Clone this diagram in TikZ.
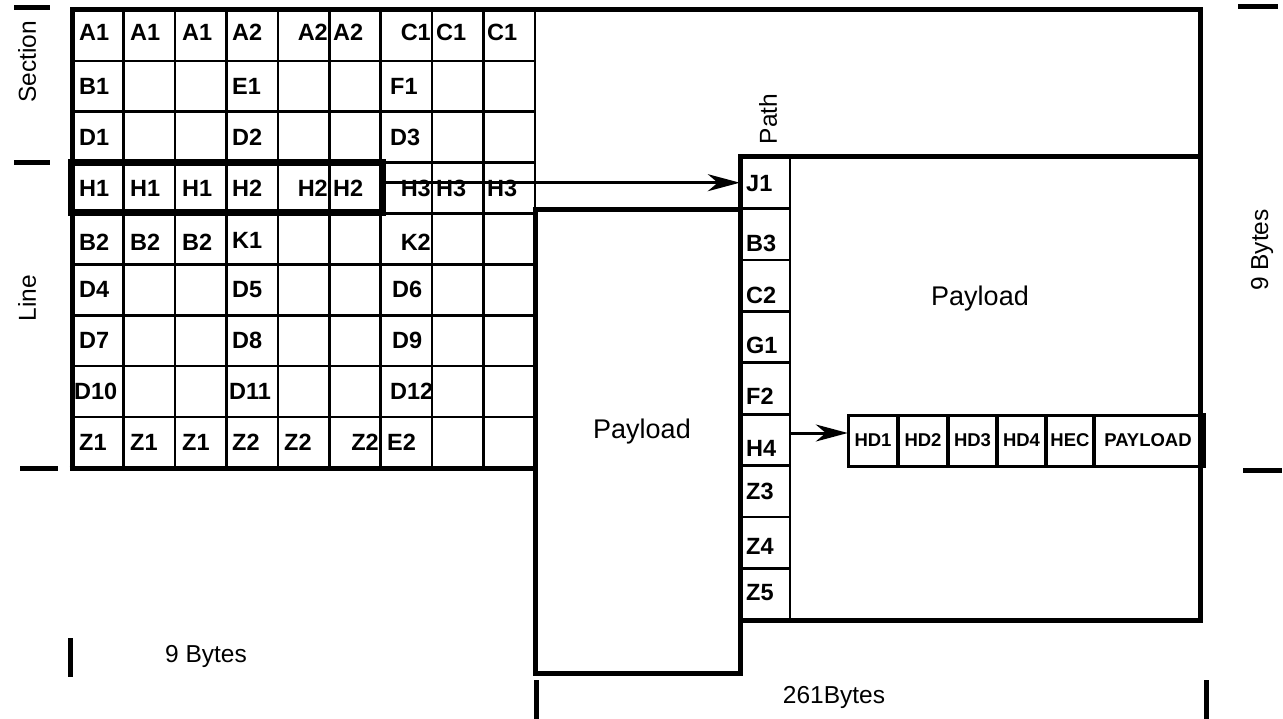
\documentclass[tikz,border=0pt]{standalone}
\usepackage{fontspec}
\setmainfont{Liberation Sans}
\usetikzlibrary{arrows.meta}
\tikzset{
  gline/.style={line width=2.6pt},
  bline/.style={line width=5pt},
  tickbar/.style={line width=5pt},
  lbl/.style={font=\fontsize{23.5}{27}\selectfont\bfseries, inner sep=0pt, anchor=west},
  lblr/.style={lbl, anchor=east},
  hdlbl/.style={font=\fontsize{18.5}{21}\selectfont\bfseries, inner sep=0pt, minimum height=51pt},
  txt/.style={font=\fontsize{24.5}{28}\selectfont, inner sep=0pt},
  bigtxt/.style={font=\fontsize{27}{31}\selectfont, inner sep=0pt},
  cellbox/.style={inner sep=0pt, minimum height=51.4pt, minimum width=50pt},
  arr/.style={line width=3pt, -{Stealth[length=32pt,width=17pt,inset=10pt]}},
}
\begin{document}
\begin{tikzpicture}[x=1pt,y=-1pt]
\useasboundingbox (0,0) rectangle (1283,719);

% ---- left grid (section + line overhead)
\foreach \x in {123.4,174.9,226.3,277.8,329.2,380.7,432.1,483.6}
  \draw[gline] (\x,10) -- (\x,468);
\foreach \y in {60.9,111.8,162.7,213.6,264.4,315.3,366.2,417.1}
  \draw[gline] (72,\y) -- (535,\y);
\draw[gline] (535,10) -- (535,212);
\draw[bline] (72,468) -- (72,10) -- (1200,10) -- (1200,157);
\draw[bline] (69.5,468) -- (535,468);

% ---- middle payload box
\draw[bline] (535,210) rectangle (740,673);
% ---- path column + payload box
\draw[bline] (740,157) rectangle (1200,620);
\draw[gline] (790,157) -- (790,620);
\foreach \y in {208.4,259.9,311.3,362.8,414.2,465.7,517.1,568.6}
  \draw[gline] (740,\y) -- (790,\y);

% ---- H group box
\node[draw, line width=6.5pt, inner sep=0pt, minimum width=312pt, minimum height=50pt] (hbox) at (227,187.5) {};

% ---- grid labels
% row A
\node[lbl] (a11) at (79,32) {A1};
\node[lbl] (a12) at (130,32) {A1};
\node[lbl] (a13) at (182,32) {A1};
\node[lbl] (a21) at (232,32) {A2};
\node[lblr] (a22) at (328,32) {A2};
\node[lbl] (a23) at (333,32) {A2};
\node[lblr] (c11) at (431,32) {C1};
\node[lbl] (c12) at (436,32) {C1};
\node[lbl] (c13) at (487,32) {C1};
% row B1
\node[lbl] (b1) at (79,86.3) {B1};
\node[lbl] (e1) at (232,86.3) {E1};
\node[lbl] (f1) at (390,86.3) {F1};
% row D1
\node[lbl] (d1) at (79,137.2) {D1};
\node[lbl] (d2) at (232,137.2) {D2};
\node[lbl] (d3) at (390,137.2) {D3};
% row H
\node[lbl] (h11) at (79,188.5) {H1};
\node[lbl] (h12) at (130,188.5) {H1};
\node[lbl] (h13) at (182,188.5) {H1};
\node[lbl] (h21) at (232,188.5) {H2};
\node[lblr] (h22) at (328,188.5) {H2};
\node[lbl] (h23) at (333,188.5) {H2};
\node[lblr] (h31) at (431,188.5) {H3};
\node[lbl] (h32) at (436,188.5) {H3};
\node[lbl] (h33) at (487,188.5) {H3};
% row B2
\node[lbl] (b21) at (79,242) {B2};
\node[lbl] (b22) at (130,242) {B2};
\node[lbl] (b23) at (182,242) {B2};
\node[lbl] (k1) at (232,240) {K1};
\node[lblr] (k2) at (431,242) {K2};
% rows D
\node[lbl] (d4) at (79,289.9) {D4};
\node[lbl] (d5) at (232,289.9) {D5};
\node[lbl] (d6) at (392,289.9) {D6};
\node[lbl] (d7) at (79,340.8) {D7};
\node[lbl] (d8) at (232,340.8) {D8};
\node[lbl] (d9) at (392,340.8) {D9};
\node[lbl] (d10) at (74,391.6) {D10};
\node[lbl] (d11) at (229,391.6) {D11};
\node[lbl] (d12) at (390,391.6) {D12};
% row Z
\node[lbl] (z11) at (79,442.5) {Z1};
\node[lbl] (z12) at (130,442.5) {Z1};
\node[lbl] (z13) at (182,442.5) {Z1};
\node[lbl] (z21) at (232,442.5) {Z2};
\node[lbl] (z22) at (284,442.5) {Z2};
\node[lblr] (z23) at (379,442.5) {Z2};
\node[lbl] (e2) at (387,442.5) {E2};

% ---- path column cells and labels
\node[cellbox] (j1) at (765,182.7) {};
\node[cellbox] (h4) at (765,440) {};
\node[lbl] (tj1) at (746,184) {J1};
\node[lbl] (tb3) at (746,243) {B3};
\node[lbl] (tc2) at (746,295) {C2};
\node[lbl] (tg1) at (746,345) {G1};
\node[lbl] (tf2) at (746,396) {F2};
\node[lbl] (th4) at (746,448) {H4};
\node[lbl] (tz3) at (746,491) {Z3};
\node[lbl] (tz4) at (746,546) {Z4};
\node[lbl] (tz5) at (746,593) {Z5};

% ---- HD box
\draw[line width=3pt] (848,415) rectangle (1203,466);
\foreach \x in {898,948,997,1046,1094}
  \draw[line width=4.5pt] (\x,415) -- (\x,466);
\draw[line width=5pt] (1203,413) -- (1203,468);
\node[hdlbl, minimum width=50pt] (hd1) at (873,440.5) {HD1};
\node[hdlbl] (hd2) at (923,440.5) {HD2};
\node[hdlbl] (hd3) at (972.5,440.5) {HD3};
\node[hdlbl] (hd4) at (1021.5,440.5) {HD4};
\node[hdlbl] (hec) at (1070,440.5) {HEC};
\node[hdlbl] (hpl) at (1148,440.5) {PAYLOAD};

% ---- arrows
\draw[arr] (hbox.east |- j1.west) -- (j1.west);
\draw[arr] ([yshift=7pt]h4.east) -- ([yshift=7pt]h4.east -| hd1.west);

% ---- payload texts
\node[bigtxt] (pl1) at (642,432) {Payload};
\node[bigtxt] (pl2) at (980,299) {Payload};

% ---- side labels and ticks
\node[txt, rotate=90] (sec) at (27,62) {Section};
\node[txt, rotate=90] (lin) at (27,298) {Line};
\node[txt, rotate=90] (pth) at (768,119) {Path};
\node[txt, rotate=90] (nbr) at (1262,250) {9 Bytes};
\node[txt] (nbb) at (206,656) {9 Bytes};
\node[txt] (b261) at (834,697) {261Bytes};

\draw[tickbar] (14,8) -- (50,8);
\draw[tickbar] (14,163) -- (50,163);
\draw[tickbar] (20,468) -- (58,468);
\draw[tickbar] (1238,7) -- (1278,7);
\draw[tickbar] (1243,470) -- (1282,470);
\draw[tickbar] (70,638) -- (70,677);
\draw[tickbar] (536,680) -- (536,719);
\draw[tickbar] (1206,680) -- (1206,719);
\end{tikzpicture}
\end{document}
